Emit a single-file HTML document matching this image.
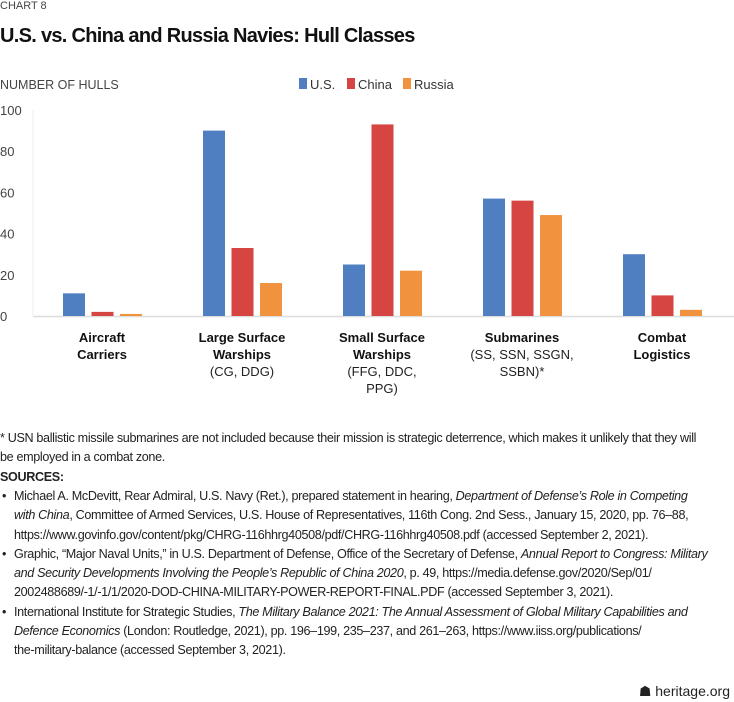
<!DOCTYPE html>
<html><head><meta charset="utf-8"><style>
body{margin:0;background:#fff;font-family:"Liberation Sans",sans-serif;color:#222}
#w{position:relative;width:734px;height:702px;overflow:hidden}
.t{position:absolute;white-space:nowrap}
.fn{position:absolute;left:0;font-size:12.6px;line-height:19.3px;color:#222;letter-spacing:-0.35px}
.b{padding-left:14px;position:relative}
.b:before{content:"•";position:absolute;left:2px}
</style></head><body><div id="w">
<div class="t" style="left:0;top:0;font-size:11px;color:#444">CHART 8</div>
<div class="t" style="left:0;top:25px;font-size:20px;font-weight:bold;color:#111;letter-spacing:-0.7px">U.S. vs. China and Russia Navies: Hull Classes</div>
<svg id="c" width="734" height="410" style="position:absolute;left:0;top:0"></svg>
<div class="fn" style="top:429px;width:730px">* USN ballistic missile submarines are not included because their mission is strategic deterrence, which makes it unlikely that they will<br>be employed in a combat zone.</div>
<div class="fn" style="top:468px;font-weight:bold">SOURCES:</div>
<div class="fn" style="top:487px;width:730px">
<div class="b">Michael A. McDevitt, Rear Admiral, U.S. Navy (Ret.), prepared statement in hearing, <i>Department of Defense’s Role in Competing<br>with China</i>, Committee of Armed Services, U.S. House of Representatives, 116th Cong. 2nd Sess., January 15, 2020, pp. 76–88,<br>https://www.govinfo.gov/content/pkg/CHRG-116hhrg40508/pdf/CHRG-116hhrg40508.pdf (accessed September 2, 2021).</div>
<div class="b">Graphic, “Major Naval Units,” in U.S. Department of Defense, Office of the Secretary of Defense, <i>Annual Report to Congress: Military<br>and Security Developments Involving the People’s Republic of China 2020</i>, p. 49, https://media.defense.gov/2020/Sep/01/<br>2002488689/-1/-1/1/2020-DOD-CHINA-MILITARY-POWER-REPORT-FINAL.PDF (accessed September 3, 2021).</div>
<div class="b">International Institute for Strategic Studies, <i>The Military Balance 2021: The Annual Assessment of Global Military Capabilities and<br>Defence Economics</i> (London: Routledge, 2021), pp. 196–199, 235–237, and 261–263, https://www.iiss.org/publications/<br>the-military-balance (accessed September 3, 2021).</div>
</div>
<div class="t" style="right:4px;top:683px;font-size:14px;color:#222">☗ heritage.org</div>
</div>
<script>
const categories=[["Aircraft","Carriers"],["Large Surface","Warships"],["Small Surface","Warships"],["Submarines"],["Combat","Logistics"]];
const subLabels=[[],["(CG, DDG)"],["(FFG, DDC,","PPG)"],["(SS, SSN, SSGN,","SSBN)*"],[]];
const seriesNames=["U.S.","China","Russia"];
const usValues=[11,90,25,57,30];
const chinaValues=[2,33,93,56,10];
const russiaValues=[1,16,22,49,3];
const yTicks=[0,20,40,60,80,100];
const colors=["#4f7fc1","#d64541","#f0923e"];
const svg=document.getElementById('c');const NS="http://www.w3.org/2000/svg";
function el(t,a,txt){const e=document.createElementNS(NS,t);for(const k in a)e.setAttribute(k,a[k]);if(txt!=null)e.textContent=txt;svg.appendChild(e);return e;}
const y0=316,yTop=110,xL=33,xR=734;
const y=v=>y0-(v/100)*(y0-yTop);
const gw=140;
const xc=i=>102+gw*i;
let t=el('text',{x:0,y:89,'font-size':12.5,fill:'#444'},'NUMBER OF HULLS');


yTicks.forEach(v=>{const e=el('text',{x:0,y:y(v)+5,'font-size':13,fill:'#444'},v);

});
let ax=el('line',{x1:xL,x2:xR,y1:y0+0.5,y2:y0+0.5,stroke:'#ddd','stroke-width':1.5});


let ay=el('line',{x1:xL,x2:xL,y1:yTop,y2:y0,stroke:'#eee','stroke-width':1});


const lx=[299,347,403];
seriesNames.forEach((n,s)=>{const r=el('rect',{x:lx[s],y:78,width:8,height:11,fill:colors[s]});


const tt=el('text',{x:lx[s]+11,y:89,'font-size':13,fill:'#333'},n);

});
[usValues,chinaValues,russiaValues].forEach((vals,s)=>{vals.forEach((v,i)=>{
const r=el('rect',{x:xc(i)-39+28.5*s,y:y(v),width:22,height:y0-y(v),fill:colors[s]});

});});
categories.forEach((c,i)=>{let yy=342;c.forEach(l=>{const e=el('text',{x:xc(i),y:yy,'font-size':13,'font-weight':'bold','text-anchor':'middle',fill:'#111'},l);

yy+=17;});
subLabels[i].forEach(l=>{const e=el('text',{x:xc(i),y:yy,'font-size':13,'text-anchor':'middle',fill:'#222'},l);

yy+=17;});});
</script></body></html>
